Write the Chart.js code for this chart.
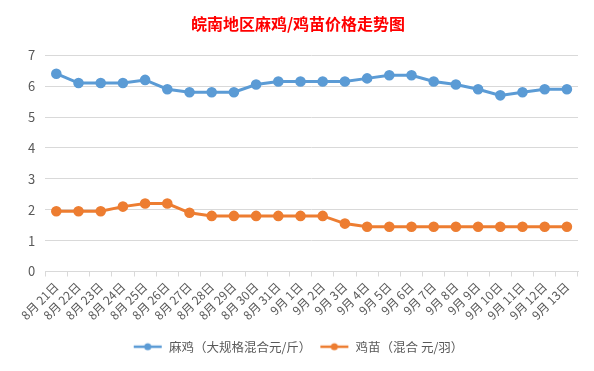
<!DOCTYPE html>
<html>
<head>
<meta charset="utf-8">
<script src="https://cdn.jsdelivr.net/npm/chart.js@4/dist/chart.umd.min.js"></script>
<style>
  html, body { margin: 0; padding: 0; background: #fff; }
  #wrap { width: 594px; height: 371px; position: relative; }
</style>
</head>
<body>
<div id="wrap"><canvas id="priceChart" width="594" height="371"></canvas></div>
<script>
// 日期（横轴）
const dates = [
  '8月 21日','8月 22日','8月 23日','8月 24日','8月 25日','8月 26日','8月 27日','8月 28日',
  '8月 29日','8月 30日','8月 31日','9月 1日','9月 2日','9月 3日','9月 4日','9月 5日',
  '9月 6日','9月 7日','9月 8日','9月 9日','9月 10日','9月 11日','9月 12日','9月 13日'
];

// 麻鸡（大规格混合 元/斤）
const majiPrices = [6.4,6.1,6.1,6.1,6.2,5.9,5.8,5.8,5.8,6.05,6.15,6.15,6.15,6.15,6.25,6.35,6.35,6.15,6.05,5.9,5.7,5.8,5.9,5.9];

// 鸡苗（混合 元/羽）
const jimiaoPrices = [1.95,1.95,1.95,2.1,2.2,2.2,1.9,1.8,1.8,1.8,1.8,1.8,1.8,1.55,1.45,1.45,1.45,1.45,1.45,1.45,1.45,1.45,1.45,1.45];

const seriesNames = ['麻鸡（大规格混合元/斤）', '鸡苗（混合 元/羽）'];
const yTicks = [0, 1, 2, 3, 4, 5, 6, 7];

const BLUE = '#5B9BD5';
const ORANGE = '#ED7D31';

// 图例里的“线+圆点”样式
function legendMark(color) {
  const c = document.createElement('canvas');
  c.width = 30; c.height = 10;
  const g = c.getContext('2d');
  g.strokeStyle = color;
  g.lineWidth = 2.5;
  g.beginPath(); g.moveTo(1, 5); g.lineTo(29, 5); g.stroke();
  g.fillStyle = color;
  g.beginPath(); g.arc(15, 5, 3.5, 0, Math.PI * 2); g.fill();
  return c;
}

const font = "'Noto Sans CJK SC', 'Noto Sans', sans-serif";
Chart.defaults.font.family = font;
Chart.defaults.color = '#595959';

const ctx = document.getElementById('priceChart').getContext('2d');
new Chart(ctx, {
  type: 'line',
  data: {
    labels: dates,
    datasets: [
      {
        label: seriesNames[0],
        data: majiPrices,
        borderColor: BLUE,
        backgroundColor: BLUE,
        borderWidth: 3,
        pointRadius: 3.8,
        pointHoverRadius: 4,
        pointStyle: 'circle',
        tension: 0
      },
      {
        label: seriesNames[1],
        data: jimiaoPrices,
        borderColor: ORANGE,
        backgroundColor: ORANGE,
        borderWidth: 3,
        pointRadius: 3.8,
        pointHoverRadius: 4,
        pointStyle: 'circle',
        tension: 0
      }
    ]
  },
  options: {
    responsive: false,
    animation: false,
    layout: { padding: { left: 18, right: 16, top: 6, bottom: 8 } },
    plugins: {
      title: {
        display: true,
        text: '皖南地区麻鸡/鸡苗价格走势图',
        color: '#FF0000',
        font: { size: 16, weight: 'bold', family: font },
        padding: { top: 8, bottom: 22 }
      },
      legend: {
        position: 'bottom',
        labels: {
          usePointStyle: true,
          pointStyleWidth: 30,
          boxHeight: 10,
          padding: 8,
          font: { size: 12.5 },
          color: '#595959',
          generateLabels(chart) {
            return chart.data.datasets.map((ds, i) => ({
              text: ds.label,
              pointStyle: legendMark(ds.borderColor),
              fillStyle: ds.borderColor,
              strokeStyle: ds.borderColor,
              lineWidth: 0,
              fontColor: '#595959',
              datasetIndex: i,
              hidden: false
            }));
          }
        }
      },
      tooltip: { enabled: false }
    },
    scales: {
      x: {
        offset: true,
        afterFit(axis) { axis.height = 61; },
        grid: {
          offset: true,
          drawOnChartArea: false,
          drawTicks: true,
          tickLength: 5,
          color: '#d9d9d9'
        },
        border: { color: '#d9d9d9' },
        ticks: {
          autoSkip: false,
          maxRotation: 45,
          minRotation: 45,
          font: { size: 12 },
          color: '#595959'
        }
      },
      y: {
        min: 0,
        max: 7,
        afterBuildTicks(axis) { axis.ticks = yTicks.map(v => ({ value: v })); },
        grid: { color: '#d9d9d9', drawTicks: false },
        border: { display: false },
        ticks: { padding: 10, font: { size: 13 }, color: '#595959' }
      }
    }
  }
});
</script>
</body>
</html>
